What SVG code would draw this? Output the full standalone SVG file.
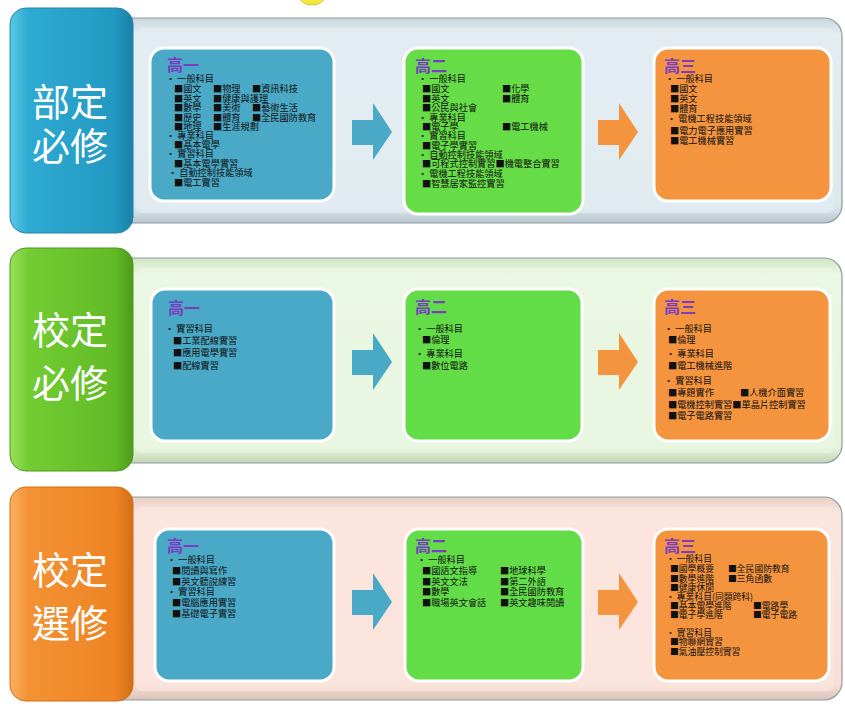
<svg xmlns="http://www.w3.org/2000/svg" width="845" height="707" viewBox="0 0 845 707">
<defs>
<linearGradient id="gBlue" x1="0" y1="0" x2="1" y2="0"><stop offset="0" stop-color="#5cc8e6"/><stop offset="0.15" stop-color="#2eaad2"/><stop offset="0.85" stop-color="#2399c2"/><stop offset="1" stop-color="#1a7fa6"/></linearGradient>
<linearGradient id="gGreen" x1="0" y1="0" x2="1" y2="0"><stop offset="0" stop-color="#9be05a"/><stop offset="0.15" stop-color="#72cc32"/><stop offset="0.85" stop-color="#62bb26"/><stop offset="1" stop-color="#4c9a1a"/></linearGradient>
<linearGradient id="gOrange" x1="0" y1="0" x2="1" y2="0"><stop offset="0" stop-color="#fbb060"/><stop offset="0.15" stop-color="#f39234"/><stop offset="0.85" stop-color="#ee8424"/><stop offset="1" stop-color="#d46d14"/></linearGradient>
<linearGradient id="pBlue" x1="0" y1="0" x2="0" y2="1"><stop offset="0" stop-color="#c9d8df"/><stop offset="0.08" stop-color="#e2ecf1"/><stop offset="0.92" stop-color="#dde8ed"/><stop offset="1" stop-color="#b7c6cd"/></linearGradient>
<linearGradient id="pGreen" x1="0" y1="0" x2="0" y2="1"><stop offset="0" stop-color="#d0e6c4"/><stop offset="0.08" stop-color="#eaf7e2"/><stop offset="0.92" stop-color="#e6f5dc"/><stop offset="1" stop-color="#c2d6b6"/></linearGradient>
<linearGradient id="pOrange" x1="0" y1="0" x2="0" y2="1"><stop offset="0" stop-color="#e8cfc6"/><stop offset="0.08" stop-color="#fbe6de"/><stop offset="0.92" stop-color="#f9e0d6"/><stop offset="1" stop-color="#dcc2b8"/></linearGradient>
</defs>
<style>
.lbl{font-family:"Noto Sans CJK TC","Noto Sans CJK SC",sans-serif;font-size:38px;fill:#ffffff;text-anchor:middle}
.hd{font-family:"Noto Sans CJK TC","Noto Sans CJK SC",serif;font-size:16px;font-weight:bold;fill:#7a3cc0}
.t{font-family:"Noto Sans CJK TC","Noto Sans CJK SC",sans-serif;font-size:9.2px;fill:#111111}
.s{font-family:"Noto Sans CJK TC","Noto Sans CJK SC",sans-serif;font-size:8.8px;fill:#111111}
.bx{stroke:#ffffff;stroke-width:3}
.panel{stroke:#8e9ca3;stroke-width:1.2}
</style>
<rect x="0" y="0" width="845" height="707" fill="#ffffff"/>
<ellipse cx="312" cy="-6" rx="14" ry="11" fill="#f3e840" stroke="#d7c82a"/>

<!-- Row 1 -->
<g id="row1">
<rect class="panel" x="80" y="18" width="762" height="205" rx="18" fill="url(#pBlue)"/>
<rect x="136" y="28" width="698" height="185" rx="6" fill="#e3edf2" opacity="0.7"/>
<g id="r1label"><rect x="10" y="8" width="123" height="225" rx="16" fill="url(#gBlue)" stroke="#1f86ad" stroke-width="1"/>
<text class="lbl" x="70" y="116">部定</text><text class="lbl" x="70" y="160">必修</text></g>
<g id="r1y1"><rect class="bx" x="150" y="48" width="184" height="153" rx="14" fill="#4aa9c7"/>
<text class="hd" x="167" y="71">高一</text>
<text class="t" x="166" y="82">• 一般科目</text>
<text class="t" x="174" y="92">■國文</text><text class="t" x="213" y="92">■物理</text><text class="t" x="252" y="92">■資訊科技</text>
<text class="t" x="174" y="101.5">■英文</text><text class="t" x="213" y="101.5">■健康與護理</text>
<text class="t" x="174" y="111">■數學</text><text class="t" x="213" y="111">■美術</text><text class="t" x="252" y="111">■藝術生活</text>
<text class="t" x="174" y="120.5">■歷史</text><text class="t" x="213" y="120.5">■體育</text><text class="t" x="252" y="120.5">■全民國防教育</text>
<text class="t" x="174" y="130">■地理</text><text class="t" x="213" y="130">■生涯規劃</text>
<text class="t" x="166" y="139">• 專業科目</text>
<text class="t" x="174" y="148">■基本電學</text>
<text class="t" x="166" y="157">• 實習科目</text>
<text class="t" x="174" y="166.5">■基本電學實習</text>
<text class="t" x="168" y="176">• 自動控制技能領域</text>
<text class="t" x="174" y="186">■電工實習</text></g>
<g id="r1y2"><rect class="bx" x="404" y="48" width="179" height="166" rx="14" fill="#66dd47"/>
<text class="hd" x="415" y="72">高二</text>
<text class="t" x="418" y="82">• 一般科目</text>
<text class="t" x="422" y="92">■國文</text><text class="t" x="502" y="92">■化學</text>
<text class="t" x="422" y="101.5">■英文</text><text class="t" x="502" y="101.5">■體育</text>
<text class="t" x="422" y="111">■公民與社會</text>
<text class="t" x="418" y="120.5">• 專業科目</text>
<text class="t" x="422" y="130">■電子學</text><text class="t" x="502" y="130">■電工機械</text>
<text class="t" x="418" y="139">• 實習科目</text>
<text class="t" x="422" y="148.5">■電子學實習</text>
<text class="t" x="418" y="157.5">• 自動控制技能領域</text>
<text class="t" x="422" y="167">■可程式控制實習■機電整合實習</text>
<text class="t" x="418" y="177">• 電機工程技能領域</text>
<text class="t" x="422" y="186.5">■智慧居家監控實習</text></g>
<g id="r1y3"><rect class="bx" x="654" y="48" width="177" height="153" rx="14" fill="#f5943f"/>
<text class="hd" x="664" y="72">高三</text>
<text class="t" x="665" y="82">• 一般科目</text>
<text class="t" x="670" y="92">■國文</text>
<text class="t" x="670" y="102">■英文</text>
<text class="t" x="670" y="112">■體育</text>
<text class="t" x="667" y="122">• 電機工程技能領域</text>
<text class="t" x="670" y="134">■電力電子應用實習</text>
<text class="t" x="670" y="144">■電工機械實習</text></g>
</g>

<!-- Row 2 -->
<g id="row2">
<rect class="panel" x="80" y="258" width="762" height="205" rx="18" fill="url(#pGreen)"/>
<rect x="136" y="268" width="698" height="185" rx="6" fill="#eaf7e2" opacity="0.7"/>
<g id="r2label"><rect x="10" y="248" width="123" height="223" rx="16" fill="url(#gGreen)" stroke="#4c9a1a" stroke-width="1"/>
<text class="lbl" x="70" y="344">校定</text><text class="lbl" x="70" y="397">必修</text></g>
<g id="r2y1"><rect class="bx" x="151" y="289" width="183" height="152" rx="14" fill="#4aa9c7"/>
<text class="hd" x="168" y="314">高一</text>
<text class="t" x="165" y="332">• 實習科目</text>
<text class="t" x="173" y="344">■工業配線實習</text>
<text class="t" x="173" y="356">■應用電學實習</text>
<text class="t" x="173" y="369">■配線實習</text></g>
<g id="r2y2"><rect class="bx" x="404" y="289" width="178" height="152" rx="14" fill="#62dd48"/>
<text class="hd" x="415" y="313">高二</text>
<text class="t" x="415" y="332">• 一般科目</text>
<text class="t" x="422" y="343">■倫理</text>
<text class="t" x="415" y="357">• 專業科目</text>
<text class="t" x="422" y="369">■數位電路</text></g>
<g id="r2y3"><rect class="bx" x="654" y="289" width="176" height="152" rx="14" fill="#f5943f"/>
<text class="hd" x="664" y="313">高三</text>
<text class="t" x="664" y="332">• 一般科目</text>
<text class="t" x="668" y="343">■倫理</text>
<text class="t" x="666" y="357">• 專業科目</text>
<text class="t" x="668" y="369">■電工機械進階</text>
<text class="t" x="664" y="384">• 實習科目</text>
<text class="t" x="668" y="396">■專題實作</text><text class="t" x="740" y="396">■人機介面實習</text>
<text class="t" x="668" y="407.5">■電機控制實習■單晶片控制實習</text>
<text class="t" x="668" y="419">■電子電路實習</text></g>
</g>

<!-- Row 3 -->
<g id="row3">
<rect class="panel" x="80" y="497" width="762" height="203" rx="18" fill="url(#pOrange)"/>
<rect x="136" y="507" width="698" height="184" rx="6" fill="#fbe6de" opacity="0.7"/>
<g id="r3label"><rect x="10" y="487" width="123" height="214" rx="16" fill="url(#gOrange)" stroke="#d46d14" stroke-width="1"/>
<text class="lbl" x="70" y="584">校定</text><text class="lbl" x="70" y="637">選修</text></g>
<g id="r3y1"><rect class="bx" x="155" y="529" width="179" height="152" rx="14" fill="#4aa9c7"/>
<text class="hd" x="167" y="552">高一</text>
<text class="t" x="167" y="563">• 一般科目</text>
<text class="t" x="172" y="574">■閱讀與寫作</text>
<text class="t" x="172" y="585">■英文聽說練習</text>
<text class="t" x="167" y="595">• 實習科目</text>
<text class="t" x="172" y="606">■電腦應用實習</text>
<text class="t" x="172" y="616.5">■基礎電子實習</text></g>
<g id="r3y2"><rect class="bx" x="405" y="529" width="178" height="152" rx="14" fill="#62dd48"/>
<text class="hd" x="415" y="552">高二</text>
<text class="t" x="417" y="563">• 一般科目</text>
<text class="t" x="422" y="574">■國語文指導</text><text class="t" x="500" y="574">■地球科學</text>
<text class="t" x="422" y="584.5">■英文文法</text><text class="t" x="500" y="584.5">■第二外語</text>
<text class="t" x="422" y="595">■數學</text><text class="t" x="500" y="595">■全民國防教育</text>
<text class="t" x="422" y="605.5">■職場英文會話</text><text class="t" x="500" y="605.5">■英文趣味閱讀</text></g>
<g id="r3y3"><rect class="bx" x="654" y="529" width="175" height="152" rx="14" fill="#f5943f"/>
<text class="hd" x="664" y="552">高三</text>
<text class="s" x="666" y="562">• 一般科目</text>
<text class="s" x="670" y="572">■國學概要</text><text class="s" x="728" y="572">■全民國防教育</text>
<text class="s" x="670" y="581.5">■數學進階</text><text class="s" x="728" y="581.5">■三角函數</text>
<text class="s" x="670" y="590.5">■健康休閒</text>
<text class="s" x="666" y="599.5">• 專業科目(同類跨科)</text>
<text class="s" x="670" y="608.5">■基本電學進階</text><text class="s" x="753" y="608.5">■電路學</text>
<text class="s" x="670" y="617.5">■電子學進階</text><text class="s" x="753" y="617.5">■電子電路</text>
<text class="s" x="666" y="636">• 實習科目</text>
<text class="s" x="670" y="645">■物聯網實習</text>
<text class="s" x="670" y="654.5">■氣油壓控制實習</text></g>
</g>

<!-- Connectors (arrows) -->
<g id="connectors">
<path d="M352,120 H373 V103 L392,132 L373,160 V145 H352 Z" fill="#4aa9c7"/>
<path d="M598,120 H619 V103 L638,132 L619,160 V145 H598 Z" fill="#f5943f"/>
<path d="M352,350 H373 V333 L392,362 L373,390 V375 H352 Z" fill="#4aa9c7"/>
<path d="M598,350 H619 V333 L638,362 L619,390 V375 H598 Z" fill="#f5943f"/>
<path d="M352,590 H373 V573 L392,602 L373,630 V615 H352 Z" fill="#4aa9c7"/>
<path d="M598,590 H619 V573 L638,602 L619,630 V615 H598 Z" fill="#f5943f"/>
</g>
</svg>
